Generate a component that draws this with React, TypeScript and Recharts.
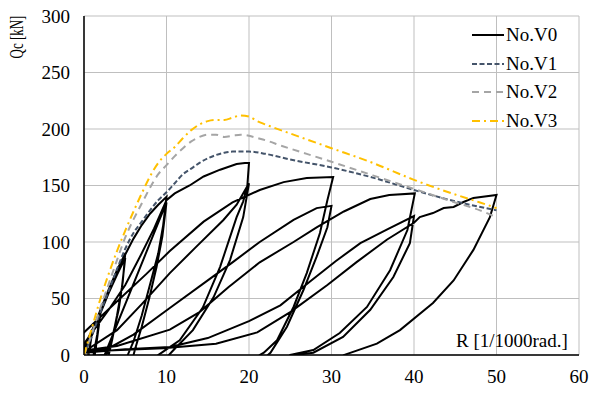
import { LineChart, Line, XAxis, YAxis, CartesianGrid } from "recharts";

type Pt = [number, number];

const xTicks = [0, 10, 20, 30, 40, 50, 60];
const yTicks = [0, 50, 100, 150, 200, 250, 300];

// No.V0 hysteresis, cycle by cycle (negative side is clipped by the axes)
const v0Small: Pt[] = [
  [0, 0], [0.5, 12], [1, 22], [0.7, 8], [0.5, 0], [0.2, -8], [-1, -22], [-0.5, -2], [0, 3],
  [0.5, 12], [1, 21], [0.7, 6], [0.5, -3], [-1, -21], [-0.5, -2], [0, 2],
  [1, 20], [2, 40], [1.6, 18], [1.2, 2], [1, -10], [-2, -40], [-1.2, -3], [0, 4],
  [1, 18], [2, 37], [1.6, 15], [1.3, 0], [1, -10], [-2, -37], [-1.2, -2], [0, 5],
];
const v0R5: Pt[] = [
  [1, 22], [2, 40], [3, 58], [4, 75], [5, 90], [4.7, 65], [4.2, 40], [3.5, 18], [3, 5], [2.7, 0],
  [2, -20], [-5, -90], [-2.7, -3], [-1, 2], [0, 8],
  [1, 22], [2, 38], [3, 55], [4, 71], [5, 86], [4.6, 60], [4, 35], [3.4, 13], [3, 0],
  [2.3, -20], [-5, -86], [-3, -3], [-1, 1], [0, 5],
];
const v0R10: Pt[] = [
  [1, 20], [2, 37], [3, 55], [4, 72], [5, 89], [6, 103], [7, 115], [8, 125], [9, 133], [10, 140],
  [9.6, 115], [9, 90], [8.1, 65], [7, 35], [6, 12], [5.3, 0], [4.5, -20], [-10, -140], [-6, -5],
  [-2, -1], [1, -1], [2.5, 0],
  [6, 63], [10, 135], [9.5, 105], [8.8, 78], [7.9, 50], [7, 25], [6.3, 8], [6, 0],
  [5, -20], [-10, -135], [-6, -5], [-1, 3], [0, 10],
];
const v0R20: Pt[] = [
  [3, 40], [5, 62], [7, 90], [8.5, 112], [10, 137], [11, 143], [12.8, 150], [14.5, 158],
  [16.5, 164], [18.5, 169], [19.5, 170], [20, 170],
  [19.8, 150], [19.3, 136], [18.5, 122], [16.5, 78], [14.4, 42], [11.6, 13], [9.6, 3], [9, 0],
  [7, -20], [-20, -170], [-10, -5], [-2, -1], [0, 3],
  [4, 22], [7, 45], [10.4, 72.5], [13.5, 95], [16.9, 119.5], [18.5, 133], [20, 152],
  [19.3, 122], [17.7, 84], [15.7, 51], [13.2, 22], [10.8, 4], [10.3, 0],
  [8, -20], [-20, -152], [-10, -5], [-2, 8], [0, 20],
];
const v0R30: Pt[] = [
  [3.5, 44], [7.6, 72], [10.4, 92], [14.5, 118], [18, 135], [21.3, 146], [24.2, 153],
  [27, 156.6], [30.2, 157.5],
  [29.5, 137], [28.6, 108], [27, 72.5], [25.4, 42.5], [23.4, 13], [21.8, 2], [21.3, 0],
  [19, -20], [-30, -158], [-15, -5], [-3, -1], [0, 3],
  [3, 6], [6, 18], [10.4, 41.6], [15, 66], [18, 82], [21.3, 100], [25.4, 119.5], [28.2, 130], [30, 132],
  [29.5, 113], [28.2, 87], [26.6, 57.5], [24.6, 25], [22.6, 2], [22.3, 0],
  [20, -20], [-30, -132], [-15, -5], [-3, -1], [0, 4],
];
const v0R40: Pt[] = [
  [4, 8], [10.4, 22.4], [14, 38], [17.5, 60], [21.3, 82], [25.4, 100], [28.2, 113], [31.5, 127],
  [34.7, 138], [37, 141.5], [40.1, 143],
  [39.2, 110.6], [37.1, 75], [34.3, 42.5], [31, 19.5], [27.8, 4.4], [25, 0],
  [22, -20], [-40, -143], [-20, -5], [-3, -1], [0, 2],
  [5, 5], [10.4, 7], [15, 15], [20, 30], [23.8, 44], [27.4, 65], [30.5, 83], [33.5, 99], [37, 112], [40, 123],
  [39.5, 99], [37.5, 69], [34.7, 40], [31.4, 16], [27.8, 2], [25.6, 0],
  [23, -20], [-40, -123], [-20, -5], [-3, -1], [0, 3],
];
const v0R50: Pt[] = [
  [9.6, 6], [16, 10], [21, 20], [25, 38], [29.5, 62], [33, 82], [36.7, 102], [40, 117], [40.7, 122],
  [42.3, 125.6], [43.6, 130], [44.8, 131], [46, 135.4], [47.2, 139], [50, 141.6],
  [49.2, 122], [47.2, 93], [44.8, 66], [42.3, 46], [38.3, 22], [35.5, 10], [31.5, 0], [29, -20],
];

// Envelope curves
const v1: Pt[] = [
  [0, 0], [1, 18], [2, 38], [3, 57], [4, 76], [5, 94], [6, 108], [7, 118], [8, 128], [9, 137],
  [10, 144], [11, 152], [12, 160], [13, 165], [14, 170], [15, 174], [16, 177], [17, 179],
  [18, 180], [19, 180], [20, 180], [22, 178], [25, 173], [30, 166], [35, 157], [40, 146],
  [45, 136], [50, 128],
];
const v2: Pt[] = [
  [0, 0], [1, 20], [2, 42], [3, 63], [4, 84], [5, 104], [6, 120], [7, 134], [8, 148], [9, 160],
  [10, 168], [11, 176], [12, 183], [13, 189], [14, 193], [15, 195], [16, 195], [17, 193],
  [18, 194], [19, 195], [20, 194], [21, 192], [22, 190], [24, 185], [27, 178], [30, 171],
  [35, 159], [40, 147], [45, 135], [48, 128], [50, 122],
];
const v3: Pt[] = [
  [0, 0], [1, 25], [2, 50], [3, 72], [4, 92], [5, 110], [6, 127], [7, 143], [8, 158], [9, 170],
  [10, 178], [11, 184], [12, 192], [13, 199], [14, 204], [15, 207], [16, 208], [17, 208],
  [18, 210], [19, 212], [20, 211], [21, 207], [22, 204], [25, 196], [30, 183], [35, 170],
  [40, 155], [45, 142], [48, 135], [50, 130],
];

const v0 = [...v0Small, ...v0R5, ...v0R10, ...v0R20, ...v0R30, ...v0R40, ...v0R50];

const toRows = (pts: Pt[]) => pts.map(([x, y]) => ({ x, y }));

const font = '"Liberation Serif", "Times New Roman", serif';
const tickStyle = { fontSize: 19, fill: "#000", fontFamily: font };

const legendItems = [
  { name: "No.V0", color: "#000000", dash: undefined },
  { name: "No.V1", color: "#44546A", dash: "5 2.5" },
  { name: "No.V2", color: "#A5A5A5", dash: "7 5" },
  { name: "No.V3", color: "#FFC000", dash: "8 4 2 4" },
];

export default function App() {
  return (
    <div
      style={{
        position: "absolute",
        left: 0,
        top: 0,
        width: 591,
        height: 393,
        background: "#fff",
        fontFamily: font,
      }}
    >
      <LineChart width={591} height={393} margin={{ top: 16, right: 12, bottom: 0, left: 0 }}>
        <CartesianGrid stroke="#bfbfbf" strokeWidth={1} />
        <XAxis
          type="number"
          dataKey="x"
          domain={[0, 60]}
          ticks={xTicks}
          interval={0}
          allowDataOverflow
          height={38}
          tickSize={0}
          tickMargin={15}
          tick={tickStyle}
          axisLine={{ stroke: "#000", strokeWidth: 1.5 }}
        />
        <YAxis
          type="number"
          domain={[0, 300]}
          ticks={yTicks}
          interval={0}
          allowDataOverflow
          width={84}
          tickSize={0}
          tickMargin={14}
          tick={tickStyle}
          axisLine={{ stroke: "#000", strokeWidth: 1.5 }}
        />
        <Line
          data={toRows(v0)}
          dataKey="y"
          type="linear"
          stroke="#000"
          strokeWidth={2}
          dot={false}
          isAnimationActive={false}
        />
        <Line
          data={toRows(v1)}
          dataKey="y"
          type="monotone"
          stroke="#44546A"
          strokeWidth={2}
          strokeDasharray="5 2.5"
          dot={false}
          isAnimationActive={false}
        />
        <Line
          data={toRows(v2)}
          dataKey="y"
          type="monotone"
          stroke="#A5A5A5"
          strokeWidth={2}
          strokeDasharray="7 5"
          dot={false}
          isAnimationActive={false}
        />
        <Line
          data={toRows(v3)}
          dataKey="y"
          type="monotone"
          stroke="#FFC000"
          strokeWidth={2}
          strokeDasharray="8 4 2 4"
          dot={false}
          isAnimationActive={false}
        />
      </LineChart>

      <div
        style={{
          position: "absolute",
          left: 17,
          top: 37,
          fontSize: 18,
          lineHeight: "18px",
          whiteSpace: "nowrap",
          transform: "translate(-50%, -50%) rotate(-90deg) scaleX(0.72)",
        }}
      >
        Qc [kN]
      </div>

      <div
        style={{
          position: "absolute",
          left: 456,
          top: 331,
          fontSize: 19,
          lineHeight: "19px",
          whiteSpace: "nowrap",
        }}
      >
        R [1/1000rad.]
      </div>

      <div style={{ position: "absolute", left: 472, top: 21 }}>
        {legendItems.map((it) => (
          <div
            key={it.name}
            style={{ display: "flex", alignItems: "center", height: 28.5, fontSize: 19 }}
          >
            <svg width={32} height={10} style={{ marginRight: 2 }}>
              <line
                x1={0}
                y1={5}
                x2={32}
                y2={5}
                stroke={it.color}
                strokeWidth={2}
                strokeDasharray={it.dash}
              />
            </svg>
            <span>{it.name}</span>
          </div>
        ))}
      </div>
    </div>
  );
}
